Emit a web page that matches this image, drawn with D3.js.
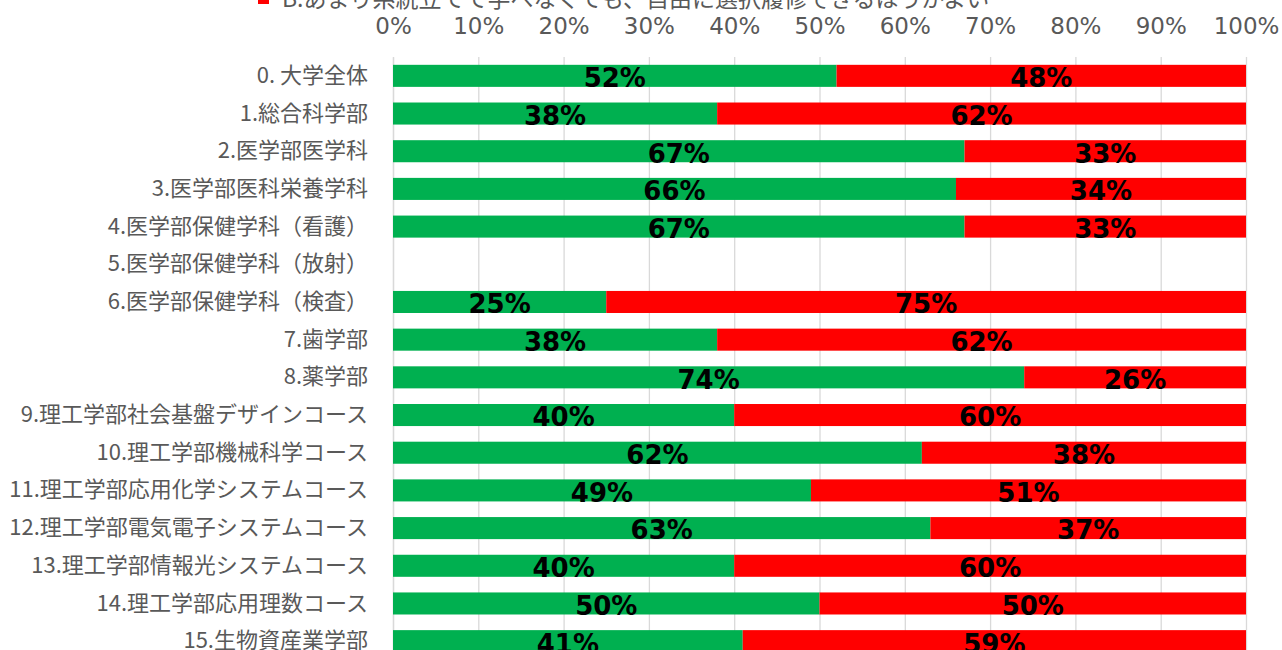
<!DOCTYPE html>
<html lang="ja">
<head>
<meta charset="utf-8">
<script src="https://cdn.jsdelivr.net/npm/d3@7"></script>
<style>
  html, body { margin: 0; padding: 0; background: #fff; overflow: hidden; }
  svg { display: block; }
</style>
</head>
<body>
<svg id="chart" width="1282" height="650"></svg>
<script>
// 学部・学科ごとの回答割合（A / B）
const categories = [
  "0. 大学全体",
  "1.総合科学部",
  "2.医学部医学科",
  "3.医学部医科栄養学科",
  "4.医学部保健学科（看護）",
  "5.医学部保健学科（放射）",
  "6.医学部保健学科（検査）",
  "7.歯学部",
  "8.薬学部",
  "9.理工学部社会基盤デザインコース",
  "10.理工学部機械科学コース",
  "11.理工学部応用化学システムコース",
  "12.理工学部電気電子システムコース",
  "13.理工学部情報光システムコース",
  "14.理工学部応用理数コース",
  "15.生物資産業学部"
];
const seriesA = [52, 38, 67, 66, 67, null, 25, 38, 74, 40, 62, 49, 63, 40, 50, 41];
const seriesB = [48, 62, 33, 34, 33, null, 75, 62, 26, 60, 38, 51, 37, 60, 50, 59];
const seriesKeys = ["A", "B"];
const seriesColors = ["#00B050", "#FF0000"];
const legendLabelB = "B.あまり系統立てて学べなくても、自由に選択履修できるほうがよい";
const tickValues = [0, 10, 20, 30, 40, 50, 60, 70, 80, 90, 100];

const svg = d3.select("#chart");
const plot = { left: 393, right: 1246, top: 57, bottom: 660 };

const rows = categories.map((c, i) => ({ cat: c, A: seriesA[i], B: seriesB[i] }));

const x = d3.scaleLinear().domain([0, 100]).range([plot.left, plot.right]);
const y = d3.scaleBand()
  .domain(categories)
  .range([plot.top, plot.bottom])
  .paddingInner(0.415)
  .paddingOuter(0.2075);

// vertical gridlines + top tick labels
const xAxis = d3.axisTop(x)
  .tickValues(tickValues)
  .tickFormat(d => d + "%")
  .tickSize(-(plot.bottom - plot.top))
  .tickPadding(0);

const gx = svg.append("g")
  .attr("transform", `translate(0,${plot.top})`)
  .call(xAxis);
gx.select(".domain").remove();
gx.selectAll(".tick line").attr("stroke", "#D9D9D9").attr("stroke-width", 1.3);
gx.selectAll(".tick text")
  .attr("y", -31)
  .attr("dy", "0.36em")
  .attr("fill", "#595959")
  .style("font-family", "'DejaVu Sans', sans-serif")
  .style("font-size", "23px");

// category axis
const gy = svg.append("g")
  .attr("transform", `translate(${plot.left},0)`)
  .call(d3.axisLeft(y).tickSize(0).tickPadding(25));
gy.select(".domain").attr("stroke", "#D9D9D9").attr("stroke-width", 1.3);
gy.selectAll(".tick text")
  .attr("fill", "#595959")
  .style("font-family", "'Noto Sans CJK JP', 'Noto Sans', sans-serif")
  .style("font-size", "22px");

// stacked bars
const stacked = d3.stack().keys(seriesKeys)(rows.filter(r => r.A != null));

const layers = svg.append("g").selectAll("g")
  .data(stacked)
  .join("g")
  .attr("fill", (d, i) => seriesColors[i]);

layers.selectAll("rect")
  .data(d => d)
  .join("rect")
  .attr("x", d => x(d[0]))
  .attr("width", d => x(d[1]) - x(d[0]))
  .attr("y", d => y(d.data.cat))
  .attr("height", y.bandwidth());

// value labels
layers.selectAll("text")
  .data(d => d.map(s => ({ s, key: d.key })))
  .join("text")
  .attr("x", d => (x(d.s[0]) + x(d.s[1])) / 2)
  .attr("y", d => y(d.s.data.cat) + y.bandwidth() / 2 + 2)
  .attr("dy", "0.36em")
  .attr("text-anchor", "middle")
  .attr("fill", "#000")
  .style("font-family", "'DejaVu Sans', sans-serif")
  .style("font-weight", "bold")
  .style("font-size", "26px")
  .text(d => d.s.data[d.key] + "%");

// legend (series B)
const legend = svg.append("g").attr("transform", "translate(258,-1)");
legend.append("rect")
  .attr("x", 0).attr("y", -6)
  .attr("width", 11).attr("height", 11)
  .attr("fill", seriesColors[1]);
legend.append("text")
  .attr("x", 24).attr("y", 0)
  .attr("dy", "0.35em")
  .attr("fill", "#595959")
  .style("font-family", "'Noto Sans CJK JP', 'Noto Sans', sans-serif")
  .style("font-size", "23px")
  .text(legendLabelB);
</script>
</body>
</html>
